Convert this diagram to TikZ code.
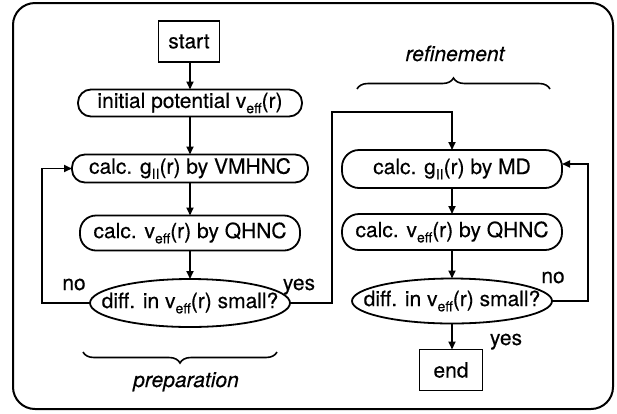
\documentclass[tikz,border=0pt]{standalone}
\usepackage{fontspec}
\setmainfont{TeX Gyre Heros}[FakeBold=0.35]
\usetikzlibrary{shapes.geometric,arrows.meta,decorations.pathreplacing,calc}
% lowered index, as in v_eff and g_II
\newcommand\sbs[1]{\raisebox{-0.25em}{\fontsize{14}{14}\selectfont #1}}
\begin{document}
\begin{tikzpicture}[x=1pt,y=-1pt,
  every node/.style={font=\fontsize{21}{24}\selectfont, inner sep=0pt, outer sep=0pt},
  terminal/.style={draw, line width=1.8pt, rectangle},
  process/.style={draw, line width=1.8pt, rectangle, rounded corners=#1},
  process/.default=13pt,
  decision/.style={draw, line width=1.8pt, ellipse},
  flow/.style={line width=1.8pt, line join=miter, -{Triangle[length=8pt,width=7pt]}},
  tag/.style={anchor=base},
  group/.style={anchor=base, font=\itshape\fontsize{21}{24}\selectfont},
  bracegroup/.style={decorate, decoration={brace, amplitude=11pt}, line width=1.6pt}]
\useasboundingbox (0,0) rectangle (617,413);

% outer frame
\draw[line width=2pt, rounded corners=22pt] (13,3) rectangle (613,409);

% preparation column
\node[terminal, minimum width=61, minimum height=41] (start) at (189,41.5) {start};
\node[process, minimum width=224, minimum height=27] (init) at (190,103) {initial potential v\sbs{eff}(r)};
\node[process, minimum width=236, minimum height=28] (vmhnc) at (190,168.5) {calc. g\sbs{II}(r) by VMHNC};
\node[process=16pt, minimum width=220, minimum height=35] (qhncL) at (190,233) {calc. v\sbs{eff}(r) by QHNC};
\node[decision, minimum width=200, minimum height=48,
      label=center:{diff. in v\sbs{eff}(r) small?}] (diffL) at (190,303) {};

% refinement column
\node[process=17pt, minimum width=220, minimum height=38] (md) at (452,169) {calc. g\sbs{II}(r) by MD};
\node[process=17pt, minimum width=220, minimum height=36] (qhncR) at (452,232) {calc. v\sbs{eff}(r) by QHNC};
\node[decision, minimum width=200, minimum height=45,
      label=center:{diff. in v\sbs{eff}(r) small?}] (diffR) at (452,301) {};
\node[terminal, minimum width=63, minimum height=41] (stop) at (451,370) {end};

% branch labels
\node[tag] (noL) at (74,290) {no};
\node[tag] (yesL) at (299,290) {yes};
\node[tag] (noR) at (553,283) {no};
\node[tag] (yesR) at (506,345) {yes};

% group captions
\draw[bracegroup] (277,352) -- (83,352);
\node[group] (prep) at (186,387) {preparation};
\draw[bracegroup] (357,89) -- (550,89);
\node[group] (refi) at (455,61) {refinement};

% connectors
\coordinate (backL) at (42,168.5);
\coordinate (jump) at (332,112);
\coordinate (backR) at (588,164);

\draw[flow] (init.north |- start.south) -- (init.north);
\draw[flow] (init) -- (vmhnc);
\draw[flow] (vmhnc) -- (qhncL);
\draw[flow] (qhncL) -- (diffL);
\draw[flow] (diffL.west) -| (backL) -- (vmhnc.west);
\draw[flow] (diffL.east) -| (jump) -| (md.north);
\draw[flow] (md) -- (qhncR);
\draw[flow] (qhncR) -- (diffR);
\draw[flow] (diffR.east) -| (backR) -- (backR -| md.east);
\draw[flow] (diffR.south) -- (diffR.south |- stop.north);
\end{tikzpicture}
\end{document}
